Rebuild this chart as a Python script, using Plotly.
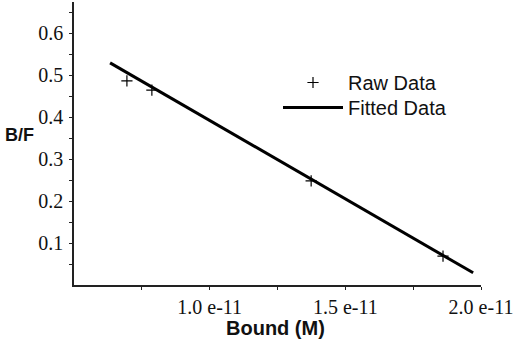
import plotly.graph_objects as go

# Raw data (Scatchard plot)
bound_raw = [0.695e-11, 0.787e-11, 1.374e-11, 1.860e-11]
bf_raw = [0.486, 0.464, 0.248, 0.069]

# Fitted line endpoints
bound_fit = [0.633e-11, 1.971e-11]
bf_fit = [0.529, 0.029]

x_tickvals = [0.75e-11, 1.0e-11, 1.25e-11, 1.5e-11, 1.75e-11, 2.0e-11]
x_ticktext = ["", "1.0 e-11", "", "1.5 e-11", "", "2.0 e-11"]
y_tickvals = [0.05, 0.1, 0.15, 0.2, 0.25, 0.3, 0.35, 0.4, 0.45, 0.5, 0.55, 0.6, 0.65]
y_ticktext = ["", "0.1", "", "0.2", "", "0.3", "", "0.4", "", "0.5", "", "0.6", ""]

XR = [0.5e-11, 2.0e-11]
YR = [0, 0.674]

PW, PH = 407, 283  # plot area size in px

fig = go.Figure()
fig.add_trace(go.Scatter(
    x=bound_raw, y=bf_raw, mode="markers", name="Raw Data", legend="legend",
    marker=dict(symbol="cross-thin", size=8, color="black",
                line=dict(width=1.2, color="black")),
))
fig.add_trace(go.Scatter(
    x=bound_fit, y=bf_fit, mode="lines", name="Fitted Data", legend="legend2",
    line=dict(color="black", width=3),
))

tickfont = dict(family="Liberation Serif", size=20, color="#111")
legfont = dict(family="Liberation Sans", size=20, color="#111")
fig.update_layout(
    width=520, height=343,
    margin=dict(l=74, r=39, t=2, b=58, autoexpand=False),
    paper_bgcolor="white", plot_bgcolor="white",
    showlegend=True,
    legend=dict(x=(278-74)/PW, y=(285-63)/PH, xanchor="left", yanchor="top",
                font=legfont, bgcolor="rgba(0,0,0,0)", itemwidth=60),
    legend2=dict(x=(278-74)/PW, y=(285-88)/PH, xanchor="left", yanchor="top",
                 font=legfont, bgcolor="rgba(0,0,0,0)", itemwidth=60),
    xaxis=dict(range=XR, tickvals=x_tickvals, ticktext=x_ticktext,
               showgrid=False, zeroline=False, showline=True,
               linecolor="#222", linewidth=1.5, ticks="outside",
               ticklen=3, tickcolor="#222", tickfont=tickfont,
               automargin=False),
    yaxis=dict(range=YR, tickvals=y_tickvals, ticktext=y_ticktext,
               showgrid=False, zeroline=False, showline=True,
               linecolor="#222", linewidth=1.5, ticks="outside",
               ticklen=3, tickcolor="#222", tickfont=tickfont,
               ticklabelstandoff=2, automargin=False),
    xaxis2=dict(range=XR, overlaying="x", anchor="y", side="bottom",
                tickvals=x_tickvals, showticklabels=False, showgrid=False,
                zeroline=False, showline=False, ticks="inside", ticklen=3,
                tickcolor="#222", automargin=False),
    yaxis2=dict(range=YR, overlaying="y", anchor="x", side="left",
                tickvals=y_tickvals, showticklabels=False, showgrid=False,
                zeroline=False, showline=False, ticks="inside", ticklen=3,
                tickcolor="#222", automargin=False),
    annotations=[
        dict(text="<b>B/F</b>", xref="paper", yref="paper",
             x=-71/PW, y=(285-135)/PH, xanchor="left", yanchor="middle",
             showarrow=False, font=dict(family="Liberation Sans", size=18, color="#111")),
        dict(text="<b>Bound (M)</b>", xref="paper", yref="paper",
             x=(275-74)/PW, y=-(328-285)/PH, xanchor="center", yanchor="middle",
             showarrow=False, font=dict(family="Liberation Sans", size=20, color="#111")),
    ],
)

fig.write_html("out.html", config={"displayModeBar": False},
               post_script="document.body.style.margin='0';")
